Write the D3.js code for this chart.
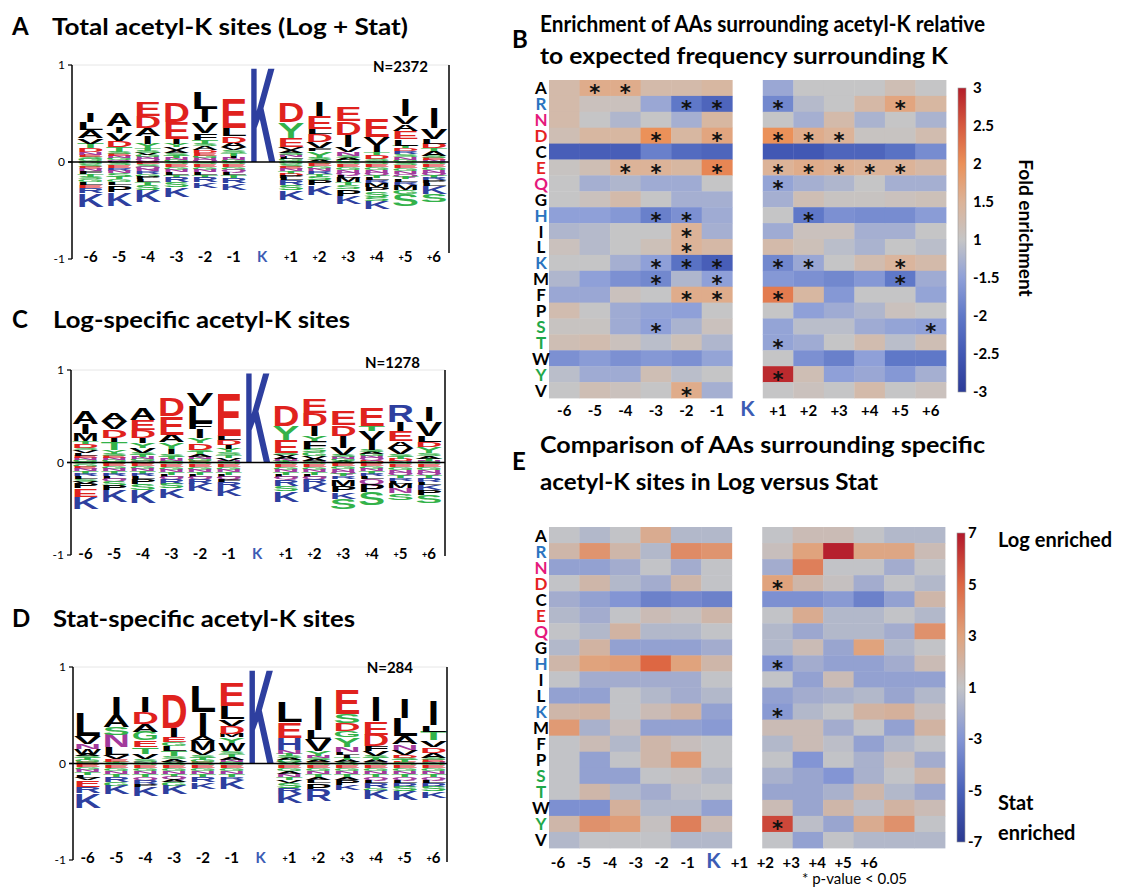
<!DOCTYPE html>
<html>
<head>
<meta charset="utf-8">
<script src="https://cdn.jsdelivr.net/npm/d3@7"></script>
<style>
body { margin: 0; background: #fff; }
svg { display: block; font-family: Lato, "Open Sans", sans-serif; }
</style>
</head>
<body>
<svg id="fig" width="1132" height="891"></svg>
<script>
'use strict';

// positions around the acetylated lysine, and the amino acids in row order
const positions = ['-6', '-5', '-4', '-3', '-2', '-1', 'K', '+1', '+2', '+3', '+4', '+5', '+6'];
const sidePositions = positions.filter(p => p !== 'K');
const aminoAcids = ['A', 'R', 'N', 'D', 'C', 'E', 'Q', 'G', 'H', 'I', 'L', 'K', 'M', 'F', 'P', 'S', 'T', 'W', 'Y', 'V'];

// logo stacks: letter + height in hundredths; "up" read top->axis, "down" read axis->bottom
const totalUp = [
    'I10 L8 A8 V6 T5 D4 N3 E2 S2 G2 Q1',
    'A14 I7 V8 D7 T5 S2 E2 N2 G2 Q1 M1',
    'E15 D12 A8 I8 Y5 T3 S2 V2 G2 N2 Q2 M1',
    'D21 E17 I5 Y4 V3 A3 S3 T2 N2 G2',
    'L18 I14 V11 F7 T4 S3 A4 D3 E3 G2 N2 Q2',
    'E31 L8 D7 A5 V3 S3 T3 I2 N2 G2',
    'D20 Y16 E10 V3 A3 S2 N2 L2 G2 T1',
    'I15 E13 L5 D8 V7 F3 Y7 S2 A2',
    'E15 D14 I13 V5 N4 S2 A2 G2',
    'E19 V8 I8 T3 D4 S2 A1',
    'I17 V8 A7 E8 L7 T3 D3 R3 S3 N3 G2',
    'I22 V11 L5 D5 T3 A5 S2 E2 N2'
];
const totalDown = [
    'G2 S3 E2 N2 F3 T3 S3 G3 L3 E3 R5 K14',
    'S3 E3 R3 N2 S4 T3 G3 L3 P7 K14',
    'E2 S3 Q2 N2 R3 G3 P3 L3 T3 S5 K12',
    'S2 E3 G3 N2 L3 T3 R5 S5 K10',
    'S2 E3 G3 N2 L3 T3 R5 K6',
    'S2 E3 G3 Q2 L3 T3 R6 K7',
    'G2 S3 E2 N2 T3 D2 P3 L2 R5 S5 K10',
    'S2 E2 G3 N2 R3 T3 S4 P5 K10',
    'S2 E3 G3 N3 Q2 L3 M5 T3 S4 P7 K8',
    'S2 E3 G3 N3 Q2 T3 L3 R3 M4 P4 S6 S4 K8',
    'S3 E3 G3 N3 Q3 T3 L3 R3 M5 G4 S12',
    'S2 E3 G3 N3 Q2 T3 R3 P3 L3 K8 S8'
];
const logUp = [
    'A14 I11 M8 T3 D4 S3 V3 L3 E2 N2 G2 Q1',
    'A9 V9 D9 I5 T9 Y4 S2 E2 N2 G2 Q1',
    'A13 E11 D9 I5 Y5 V6 S2 T2 N2 G2 Q2',
    'D20 E20 A8 Y7 I6 S3 T2 N2 G2',
    'V14 L18 F7 I10 Y5 D7 S3 T2 A3 N2 G2 E2',
    'E47 L5 D5 I4 Y4 S3 T3 V3 N2',
    'D23 Y16 E14 S2 V2 A2 N2 T2',
    'E16 D14 I11 Y6 F8 S4 G4 V3 A2 N2',
    'E16 D12 I13 V8 S2 N2 G2 A2',
    'E20 T6 V10 I11 S2 A2 G2 N2 Q2 D3',
    'R18 I10 E11 A7 V7 S3 T2 D2 N2',
    'I16 V16 L7 D5 Y7 S3 A3 T2 N2'
];
const logDown = [
    'S2 G3 E2 N2 T3 R3 L3 S3 V2 P5 E9 K13',
    'S2 E2 G3 N2 T3 R3 L3 Q2 S5 P5 K13',
    'S2 E2 G3 N2 T3 R3 L3 P5 S7 K14',
    'S2 E3 G3 N2 T3 L3 Q2 R5 S5 K10',
    'S2 E3 G3 N2 T3 L3 Q2 R5 K8',
    'S2 E3 G3 N2 T3 L3 Q2 F3 R7 K8',
    'S2 E3 G3 N2 T3 L3 Q2 R7 S6 K12',
    'S2 E3 G3 N2 T3 L3 Q2 R5 K9',
    'S2 E2 G3 N3 Q2 T3 R3 M7 P7 K7 S11',
    'S2 E2 G3 N2 T3 R3 L3 Q5 P9 S14',
    'S2 E3 G3 N3 Q3 T3 R3 L3 M5 N5 S7',
    'S2 E3 G3 N3 Q3 T3 R4 L3 K6 P5 S9'
];
const statUp = [
    'L24 V8 N5 W5 A2 S2 T2 G2 E2',
    'I19 A12 S8 N13 L8 V4 E3 T2',
    'I17 D12 A8 G9 E7 T7 V5 S3 N2',
    'D35 I10 E5 G4 L5 T5 S3 A3 V2',
    'L28 I24 A6 M9 V5 S3 T2 G2 E2',
    'E24 L14 V7 D8 M4 Y6 W8 S3 T3 A3 N2 G2',
    'L22 E17 H12 N4 T2 S2 A2 G2 V2',
    'I35 L10 V12 Y5 N2 S2 A2 E2',
    'E26 S9 D8 G7 Y10 N5 L3 I3 T2 A2 V2',
    'I26 E14 D12 F5 V5 S2 T2 A2 N2',
    'I21 L19 A8 N6 V5 D3 S2 T2 E2',
    'I26 L7 T9 V7 D6 A5 S2 E2 N2'
];
const statDown = [
    'S2 E2 G3 N2 T3 L3 V2 E7 R7 K15',
    'S2 E3 G3 N3 T3 R5 G4 K9',
    'S2 E3 G3 N3 T3 Q3 R4 P3 K10',
    'S2 E3 G3 N3 T3 Q2 A3 G4 K9',
    'S2 E3 G3 N3 T3 R5 K7',
    'S2 E3 G3 N3 T3 R3 K9',
    'S2 E3 G3 A3 N3 T3 V3 S5 R7 K9',
    'S2 E3 G3 N3 T3 A3 L3 P7 R12',
    'S2 E3 G3 N3 T3 A3 P5 K5',
    'S2 E3 G3 N3 T3 Q3 L3 R5 G3 K9',
    'S2 E3 G3 N3 T3 Q3 L3 R4 S5 K9',
    'S2 E3 G3 N3 T3 Q3 L3 R4 S5 K7'
];

// panel B: fold enrichment, one row per amino acid, columns -6..-1, +1..+6
const enrichFold = [
    [1.3, 1.6, 1.6, 1.3, 1.3, 1.4, -1.4, 1.0, 1.0, 1.0, 1.2, 1.0],
    [1.3, 1.1, 1.1, -1.4, -2.0, -2.3, -1.8, -1.15, 1.0, 1.35, 1.7, 1.4],
    [1.3, 1.0, -1.2, 1.0, -1.3, 1.4, 1.0, -1.3, 1.3, -1.25, 1.0, -1.25],
    [1.2, 1.4, 1.4, 2.0, 1.4, 1.7, 2.0, 1.6, 1.5, 1.05, 1.05, 1.25],
    [-2.4, -2.4, -2.4, -1.9, -2.2, -2.3, -2.5, -2.5, -2.3, -2.3, -2.1, -1.75],
    [1.05, 1.2, 1.5, 1.5, 1.4, 2.1, 1.5, 1.6, 1.55, 1.5, 1.5, 1.35],
    [1.0, -1.3, -1.2, -1.35, -1.35, 1.0, -1.45, -1.3, -1.2, 1.0, -1.3, -1.3],
    [1.0, 1.1, 1.3, 1.0, -1.3, -1.3, -1.3, 1.2, 1.05, 1.05, 1.1, 1.15],
    [-1.5, -1.5, -1.6, -1.9, -1.7, -1.35, 1.0, -2.0, -1.7, -1.75, -1.75, -1.55],
    [-1.2, -1.15, 1.0, 1.0, 1.5, -1.3, -1.35, 1.1, 1.1, -1.3, -1.3, 1.0],
    [1.1, -1.15, 1.0, 1.15, 1.5, 1.35, 1.3, 1.15, -1.1, -1.25, 1.0, -1.1],
    [1.0, 1.0, -1.3, -1.5, -2.1, -2.4, -1.8, -1.4, 1.0, 1.25, 1.45, 1.3],
    [-1.2, -1.5, -1.7, -1.8, -1.2, -1.5, -1.6, -1.7, -1.8, -1.6, -2.0, -1.35],
    [-1.4, -1.4, 1.1, 1.0, 1.6, 1.6, 2.2, 1.4, -1.6, 1.0, 1.0, -1.45],
    [1.25, 1.0, -1.35, -1.45, -1.5, 1.0, 1.0, -1.5, -1.35, -1.2, 1.1, 1.0],
    [1.05, 1.05, -1.35, -1.5, -1.25, 1.1, -1.45, -1.1, -1.1, -1.35, -1.45, -1.5],
    [1.2, 1.25, 1.1, -1.1, 1.15, -1.2, -1.45, -1.35, 1.0, 1.25, -1.1, 1.2],
    [-1.7, -1.55, -1.7, -1.6, -1.7, -1.45, 1.0, -1.7, -1.9, -1.5, -2.0, -2.0],
    [-1.1, -1.35, -1.35, 1.2, -1.1, 1.0, 2.9, 1.2, -1.5, -1.4, -1.6, -1.3],
    [1.0, 1.2, 1.1, 1.0, 1.6, -1.3, 1.0, 1.1, 1.0, 1.3, 1.0, 1.1]
];
const enrichStars = ['A-5', 'A-4', 'R-2', 'R-1', 'R+1', 'R+5', 'D-3', 'D-1', 'D+1', 'D+2', 'D+3',
    'E-4', 'E-3', 'E-1', 'E+1', 'E+2', 'E+3', 'E+4', 'E+5', 'Q+1', 'H-3', 'H-2', 'H+2', 'I-2', 'L-2',
    'K-3', 'K-2', 'K-1', 'K+1', 'K+2', 'K+5', 'M-3', 'M-1', 'M+5', 'F-2', 'F-1', 'F+1', 'S-3', 'S+6',
    'T+1', 'Y+1', 'V-2'];
const foldTicks = [3, 2.5, 2, 1.5, 1, -1.5, -2, -2.5, -3];

// panel E: Log versus Stat
const compareFold = [
    [1, -1.5, -1, 2.5, -1.5, -1.5, 1, 1.5, 1.5, 1, -1.5, -1.5],
    [1.8, 3.5, 1.8, -1.5, 3.8, 3.5, 1.3, 3, 6.8, 2.8, 2.8, 1.5],
    [-2.5, -2.5, -2, 1, -2, -1, -2, 4.2, -1, 1, -2, -1],
    [1, 1.8, -1.5, -2, 1.8, -1, 3, 1.8, 1.2, -2, 1, -1.5],
    [-2, -2.5, -3, -3.8, -3.5, -3.8, -3.2, -3.2, -2.8, -3.8, -2.5, 1.8],
    [-1.5, -2, 1, 1.5, 1.2, 1.8, 1, 2.5, -1.5, -1.5, 1, -1.5],
    [1, -1.5, 2, -1.5, -1.5, 1, -1.5, -2.2, -1.5, -1.5, -2, 3.6],
    [-1.5, 2, -2.5, -2.5, -2.5, -2, -1.5, 1.5, -2.3, 3, -1.5, -1],
    [1.8, 3, 3.2, 5, 3, 1.8, -3, -2, -2.5, -2.5, -2, 1.5],
    [1, -2, -2, -2, -2, 1, 1, -2.5, 1.5, -2.5, -2.5, -2.5],
    [-2.5, -2.5, 1, -1.5, -2, -1.5, -2.5, -2, -1.8, -1.5, -2.3, -1.5],
    [1.8, 2, 1, 1.5, 2, -2.5, -2.8, -1.5, 1, 2, 2.2, 1.3],
    [3.3, -1.8, 1.3, -2.5, -2.5, -2.8, 1.5, 1.5, -2, -1, -2.5, 2],
    [1, 1.5, -1.5, 1.8, 1.3, -1, -1.5, 1.5, -1.2, -2.5, -1.5, 1],
    [-1, -2.5, 1, 1.8, 3.3, 1, 1, -3, 1, -1.8, 1.3, -2],
    [-1, -2.5, -2.5, 1, 1.2, -1.5, -1.8, -2.3, -3, -1.8, 1, 1.8],
    [-1, 1.8, -1.5, -2, -1.2, -1, -2.3, -2.3, -1.8, 1.8, -1.5, -2.2],
    [-3.2, -3.2, 2.2, -1.5, -1.5, -2.5, 1.5, -2.3, 1.8, -1.2, 2, 1.5],
    [1.8, 3.6, 3.2, 1.2, 4.2, 1.5, 5.8, -1.2, -2.3, 2.5, 3.6, 1],
    [-1.5, 1, -1, -1, -1.5, -1.5, 1, -2.5, 1, -1.5, -1.5, -1.5]
];
const compareStars = ['D+1', 'H+1', 'K+1', 'Y+1'];
const compareTicks = [7, 5, 3, 1, -3, -5, -7];

const svg = d3.select('#fig');

const logoColor = {
    D: '#e0221e', E: '#e0221e',
    K: '#2e3f9f', R: '#2e3f9f', H: '#2e3f9f',
    S: '#33b24a', T: '#33b24a', Y: '#33b24a', G: '#33b24a', C: '#33b24a',
    N: '#a23a9c', Q: '#a23a9c'
};
const rowColor = {
    R: '#2a74c0', H: '#2a74c0', K: '#2a74c0',
    N: '#e5187c', Q: '#e5187c',
    D: '#e5231f', E: '#e5231f',
    S: '#1fa84a', T: '#1fa84a', Y: '#1fa84a'
};
const kBlue = '#3c5cb4';

function parseStack(s) {
    return s.trim().split(/\s+/).map(t => ({ aa: t[0], h: +t.slice(1) / 100 }));
}

function drawLetter(g, aa, x, w, yBase, hpx) {
    if (hpx < 0.4) return;
    // "I" keeps its own narrow shape, every other letter fills the column
    const lw = aa === 'I' ? w * 0.42 : w;
    const lx = x + (w - lw) / 2;
    g.append('text')
        .attr('transform', 'translate(' + lx + ',' + yBase + ') scale(1,' + (hpx / 71.6) + ')')
        .attr('font-family', '"Liberation Sans", Arial, sans-serif')
        .attr('font-weight', 700)
        .attr('font-size', 100)
        .attr('textLength', lw)
        .attr('lengthAdjust', 'spacingAndGlyphs')
        .attr('fill', logoColor[aa] || '#000')
        .text(aa);
}

function drawText(x, y, txt, opts) {
    const t = svg.append('text').attr('x', x).attr('y', y).text(txt);
    Object.keys(opts || {}).forEach(k => t.attr(k, opts[k]));
    return t;
}

function drawLogo(cfg) {
    const g = svg.append('g');
    const x = d3.scaleBand().domain(positions)
        .range([cfg.x0, cfg.x0 + cfg.pitch * 13]).paddingInner(0.06);
    const y = d3.scaleLinear().domain([-1, 1]).range([cfg.yBottom, cfg.yTop]);

    // faint frame line at the top
    g.append('line').attr('x1', cfg.axisX).attr('x2', cfg.rightX)
        .attr('y1', y(1)).attr('y2', y(1)).attr('stroke', '#e6e6e6').attr('stroke-width', 1);

    positions.forEach((p, i) => {
        let up, down;
        if (p === 'K') {
            up = [{ aa: 'K', h: 1 }];
            down = [];
        } else {
            const idx = i < 6 ? i : i - 1;
            up = parseStack(cfg.up[idx]);
            down = parseStack(cfg.down[idx]);
        }
        let acc = 0;
        up.slice().reverse().forEach(d => {
            drawLetter(g, d.aa, x(p), x.bandwidth(), y(acc), y(acc) - y(acc + d.h));
            acc += d.h;
        });
        acc = 0;
        down.forEach(d => {
            drawLetter(g, d.aa, x(p), x.bandwidth(), y(-acc - d.h), y(-acc - d.h) - y(-acc));
            acc += d.h;
        });
    });

    // axes
    g.append('line').attr('x1', cfg.axisX).attr('x2', cfg.axisX)
        .attr('y1', y(1)).attr('y2', y(-1)).attr('stroke', '#000').attr('stroke-width', 1.5);
    [1, 0, -1].forEach(v => {
        g.append('line').attr('x1', cfg.axisX - 4).attr('x2', cfg.axisX)
            .attr('y1', y(v)).attr('y2', y(v)).attr('stroke', '#000').attr('stroke-width', 1.2);
        g.append('text').attr('x', cfg.axisX - 7).attr('y', y(v) + 4)
            .attr('text-anchor', 'end').attr('font-size', 12).text(v);
    });
    g.append('line').attr('x1', cfg.axisX - 4).attr('x2', cfg.rightX)
        .attr('y1', y(0)).attr('y2', y(0)).attr('stroke', '#000').attr('stroke-width', 1.6);
    g.append('line').attr('x1', cfg.rightX).attr('x2', cfg.rightX)
        .attr('y1', y(1)).attr('y2', cfg.rightBottom).attr('stroke', '#000').attr('stroke-width', 1.5);

    // position labels
    positions.forEach(p => {
        const t = g.append('text').attr('x', x(p) + x.bandwidth() / 2).attr('y', cfg.labelY)
            .attr('text-anchor', 'middle').attr('font-weight', 700);
        if (p === 'K') {
            t.attr('fill', kBlue).attr('font-size', 15).text('K');
        } else if (p[0] === '+') {
            t.attr('font-size', 15);
            t.append('tspan').attr('font-size', 9).attr('dy', -1).text('+');
            t.append('tspan').attr('dy', 1).text(p.slice(1));
        } else {
            t.attr('font-size', 15).text(p);
        }
    });

    g.append('text').attr('x', cfg.nX).attr('y', cfg.nY).attr('text-anchor', 'end')
        .attr('font-size', 15).attr('font-weight', 700).text(cfg.nLabel);
}

function drawHeatmap(cfg) {
    const g = svg.append('g');
    const x = d3.scaleBand().domain(positions).range([cfg.x0, cfg.x1]);
    const y = d3.scaleBand().domain(aminoAcids).range([cfg.y0, cfg.y1]);
    const color = d3.scaleLinear().domain(cfg.colorDomain).range(cfg.colors).clamp(true);

    const cells = [];
    aminoAcids.forEach((aa, r) => {
        cfg.values[r].forEach((v, c) => cells.push({ aa: aa, pos: sidePositions[c], v: v }));
    });
    g.selectAll('rect.cell').data(cells).join('rect')
        .attr('class', 'cell')
        .attr('x', d => x(d.pos))
        .attr('y', d => y(d.aa))
        .attr('width', x.bandwidth() + 0.4)
        .attr('height', y.bandwidth() + 0.4)
        .attr('fill', d => color(cfg.toPos(d.v)));

    g.selectAll('text.star').data(cfg.stars).join('text')
        .attr('class', 'star')
        .attr('x', d => x(d.slice(1)) + x.bandwidth() / 2)
        .attr('y', d => y(d[0]) + y.bandwidth() / 2 + 12.5)
        .attr('text-anchor', 'middle')
        .attr('font-family', '"DejaVu Sans", sans-serif')
        .attr('font-size', 21)
        .attr('font-weight', 700)
        .attr('fill', '#111')
        .text('*');

    // row labels
    g.selectAll('text.row').data(aminoAcids).join('text')
        .attr('class', 'row')
        .attr('x', cfg.rowLabelX)
        .attr('y', d => y(d) + y.bandwidth() / 2 + 6.5)
        .attr('text-anchor', 'middle')
        .attr('font-size', 17)
        .attr('font-weight', 700)
        .attr('fill', d => rowColor[d] || '#000')
        .text(d => d);

    // column labels
    const lx = cfg.labelRange
        ? d3.scalePoint().domain(positions).range(cfg.labelRange)
        : (p => x(p) + x.bandwidth() / 2);
    positions.forEach(p => {
        g.append('text').attr('x', lx(p)).attr('y', cfg.labelY)
            .attr('text-anchor', 'middle').attr('font-weight', 700)
            .attr('font-size', p === 'K' ? 21 : 15)
            .attr('fill', p === 'K' ? kBlue : '#000')
            .text(p);
    });

    // colour bar
    const cb = cfg.colorbar;
    const gradId = cfg.id + '-grad';
    const grad = svg.append('defs').append('linearGradient').attr('id', gradId)
        .attr('x1', 0).attr('x2', 0).attr('y1', 1).attr('y2', 0);
    const pMin = cfg.colorDomain[0];
    const pMax = cfg.colorDomain[cfg.colorDomain.length - 1];
    cfg.colorDomain.forEach((p, i) => {
        grad.append('stop').attr('offset', (p - pMin) / (pMax - pMin)).attr('stop-color', cfg.colors[i]);
    });
    g.append('rect').attr('x', cb.x).attr('y', cb.y0).attr('width', cb.w).attr('height', cb.y1 - cb.y0)
        .attr('fill', 'url(#' + gradId + ')').attr('stroke', '#9a9a9a').attr('stroke-width', 0.6);
    const yc = d3.scaleLinear().domain([pMin, pMax]).range([cb.y1, cb.y0]);
    cfg.ticks.forEach(t => {
        g.append('text').attr('x', cb.labelX).attr('y', yc(cfg.toPos(t)) + 5)
            .attr('font-size', 15).attr('font-weight', 700).text(t);
    });
}

// ---- panel titles ----
const titleFont = { 'font-size': 23, 'font-weight': 700 };
function title(x, y, txt, len) {
    drawText(x, y, txt, Object.assign({ textLength: len, lengthAdjust: 'spacingAndGlyphs' }, titleFont));
}
drawText(12, 35, 'A', { 'font-size': 24, 'font-weight': 700 });
title(52, 35, 'Total acetyl-K sites (Log + Stat)', 356);
drawText(12, 328, 'C', { 'font-size': 24, 'font-weight': 700 });
title(53, 328, 'Log-specific acetyl-K sites', 297);
drawText(12, 627, 'D', { 'font-size': 24, 'font-weight': 700 });
title(53, 627, 'Stat-specific acetyl-K sites', 302);
drawText(512, 48, 'B', { 'font-size': 24, 'font-weight': 700 });
title(540, 32, 'Enrichment of AAs surrounding acetyl-K relative', 445);
title(540, 64, 'to expected frequency surrounding K', 408);
drawText(512, 470, 'E', { 'font-size': 24, 'font-weight': 700 });
title(540, 453, 'Comparison of AAs surrounding specific', 445);
title(540, 490, 'acetyl-K sites in Log versus Stat', 338);

// ---- logos ----
drawLogo({ x0: 77, pitch: 28.5, axisX: 72, rightX: 449, rightBottom: 253,
    yTop: 65, yBottom: 259, labelY: 262, up: totalUp, down: totalDown,
    nLabel: 'N=2372', nX: 428, nY: 72 });
drawLogo({ x0: 72, pitch: 28.5, axisX: 71, rightX: 445, rightBottom: 556,
    yTop: 370, yBottom: 555, labelY: 559, up: logUp, down: logDown,
    nLabel: 'N=1278', nX: 420, nY: 368 });
drawLogo({ x0: 74, pitch: 28.7, axisX: 73, rightX: 447, rightBottom: 862,
    yTop: 667, yBottom: 860, labelY: 863, up: statUp, down: statDown,
    nLabel: 'N=284', nX: 413, nY: 673 });

// ---- heatmaps ----
function foldPos(step) {
    return v => (v >= 1 ? (v - 1) / step : (v <= -1 ? -(Math.abs(v) - 1) / step : 0));
}

drawHeatmap({
    id: 'enrich', x0: 549, x1: 946, y0: 80, y1: 398,
    values: enrichFold, stars: enrichStars, toPos: foldPos(0.5),
    colorDomain: [-4, -3, -2, -1, 0, 1, 2, 3, 4],
    colors: ['#2c3b98', '#4258b4', '#5f78c8', '#8fa0d8', '#c5c5c6', '#dcb398', '#eb9159', '#d65a3f', '#b41e2a'],
    rowLabelX: 541, labelY: 416,
    colorbar: { x: 958, w: 8, y0: 88, y1: 392, labelX: 973 },
    ticks: foldTicks
});
drawHeatmap({
    id: 'compare', x0: 549, x1: 945, y0: 527, y1: 848,
    values: compareFold, stars: compareStars, toPos: foldPos(2),
    colorDomain: [-3, -2, -1, 0, 1, 2, 3],
    colors: ['#2b3990', '#4a62ba', '#8395d4', '#c2c3c7', '#e0a37d', '#dd6743', '#b2182b'],
    rowLabelX: 541, labelY: 868, labelRange: [558, 869],
    colorbar: { x: 957, w: 8, y0: 533, y1: 842, labelX: 968 },
    ticks: compareTicks
});

// colour bar captions
drawText(0, 0, 'Fold enrichment', { 'font-size': 19, 'font-weight': 700, 'text-anchor': 'middle',
    transform: 'translate(1019,228) rotate(90)' });
drawText(998, 547, 'Log enriched', { 'font-size': 20, 'font-weight': 700 });
drawText(998, 810, 'Stat', { 'font-size': 20, 'font-weight': 700 });
drawText(998, 840, 'enriched', { 'font-size': 20, 'font-weight': 700 });
drawText(802, 884, '* p-value < 0.05', { 'font-size': 15 });
</script>
</body>
</html>
